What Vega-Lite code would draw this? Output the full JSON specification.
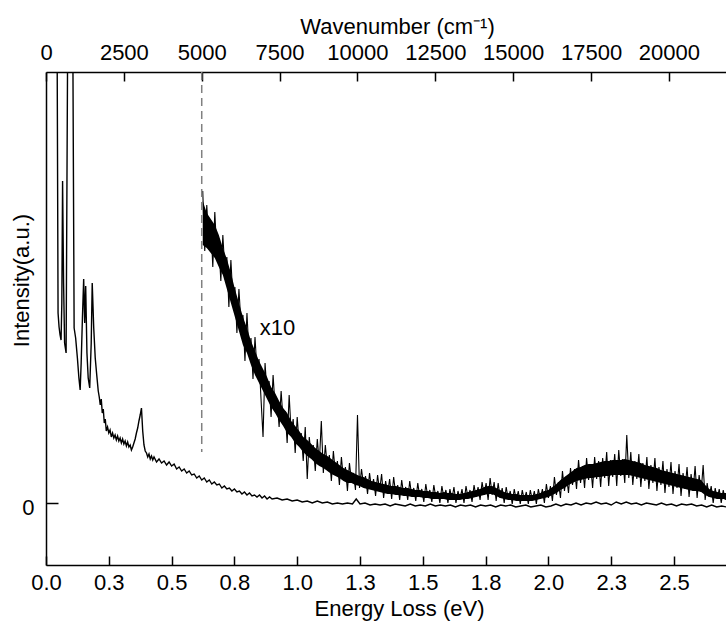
{
  "$schema": "https://vega.github.io/schema/vega-lite/v6.json",
  "width": 680,
  "height": 493,
  "autosize": {"type": "none"},
  "padding": {"left": 46, "top": 72, "right": 0, "bottom": 58},
  "background": "white",
  "config": {
    "view": {"stroke": null},
    "font": "Liberation Sans",
    "axis": {
      "labelFont": "Liberation Sans", "titleFont": "Liberation Sans",
      "labelFontSize": 22, "titleFontSize": 22,
      "labelColor": "black", "titleColor": "black",
      "domainColor": "black", "tickColor": "black",
      "domainWidth": 1.5, "tickWidth": 1.5,
      "grid": false, "labelFlush": false, "titleFontWeight": "normal"
    }
  },
  "datasets": {
    "main": [
      {"e":0.023,"v":2000},{"e":0.048,"v":190},{"e":0.052,"v":176},{"e":0.056,"v":168},{"e":0.060,"v":163},{"e":0.063,"v":200},{"e":0.066,"v":322},{"e":0.070,"v":220},{"e":0.074,"v":160},{"e":0.080,"v":150},{"e":0.097,"v":1000},{"e":0.112,"v":175},{"e":0.118,"v":165},{"e":0.125,"v":145},{"e":0.131,"v":125},{"e":0.136,"v":113},{"e":0.140,"v":140},{"e":0.145,"v":185},{"e":0.150,"v":224},{"e":0.154,"v":180},{"e":0.158,"v":217},{"e":0.163,"v":150},{"e":0.168,"v":125},{"e":0.174,"v":115},{"e":0.180,"v":160},{"e":0.184,"v":220},{"e":0.190,"v":175},{"e":0.196,"v":145},{"e":0.202,"v":128},{"e":0.208,"v":112},{"e":0.212,"v":106},{"e":0.216,"v":98},{"e":0.220,"v":104},{"e":0.224,"v":90},{"e":0.228,"v":94},{"e":0.232,"v":80},{"e":0.236,"v":84},{"e":0.240,"v":72},{"e":0.245,"v":76},{"e":0.250,"v":70},{"e":0.255,"v":73},{"e":0.260,"v":66},{"e":0.265,"v":70},{"e":0.270,"v":65},{"e":0.275,"v":68},{"e":0.280,"v":63},{"e":0.285,"v":67},{"e":0.290,"v":62},{"e":0.295,"v":65},{"e":0.300,"v":60},{"e":0.305,"v":64},{"e":0.310,"v":59},{"e":0.315,"v":62},{"e":0.320,"v":57},{"e":0.325,"v":61},{"e":0.330,"v":56},{"e":0.335,"v":58},{"e":0.340,"v":53},{"e":0.345,"v":56},{"e":0.350,"v":60},{"e":0.355,"v":64},{"e":0.360,"v":70},{"e":0.365,"v":75},{"e":0.370,"v":82},{"e":0.375,"v":88},{"e":0.380,"v":95},{"e":0.385,"v":72},{"e":0.390,"v":58},{"e":0.395,"v":52},{"e":0.400,"v":50},{"e":0.405,"v":46},{"e":0.410,"v":49},{"e":0.415,"v":44},{"e":0.420,"v":47},{"e":0.425,"v":43},{"e":0.430,"v":46},{"e":0.440,"v":41},{"e":0.450,"v":44},{"e":0.460,"v":40},{"e":0.470,"v":42},{"e":0.480,"v":38},{"e":0.490,"v":41},{"e":0.500,"v":37},{"e":0.510,"v":39},{"e":0.520,"v":34},{"e":0.530,"v":36},{"e":0.540,"v":32},{"e":0.550,"v":34},{"e":0.560,"v":30},{"e":0.570,"v":32},{"e":0.580,"v":28},{"e":0.590,"v":29},{"e":0.600,"v":25},{"e":0.610,"v":27},{"e":0.620,"v":23},{"e":0.630,"v":25},{"e":0.640,"v":21},{"e":0.650,"v":23},{"e":0.660,"v":19},{"e":0.670,"v":21},{"e":0.680,"v":18},{"e":0.690,"v":19},{"e":0.700,"v":15},{"e":0.710,"v":17},{"e":0.720,"v":14},{"e":0.730,"v":15},{"e":0.740,"v":12},{"e":0.750,"v":14},{"e":0.760,"v":11},{"e":0.770,"v":12},{"e":0.780,"v":9},{"e":0.790,"v":11},{"e":0.800,"v":8},{"e":0.810,"v":10},{"e":0.820,"v":7},{"e":0.830,"v":8},{"e":0.840,"v":6},{"e":0.850,"v":8},{"e":0.860,"v":5},{"e":0.870,"v":7},{"e":0.880,"v":4},{"e":0.890,"v":6},{"e":0.900,"v":4},{"e":0.920,"v":5},{"e":0.940,"v":3},{"e":0.960,"v":4},{"e":0.980,"v":2},{"e":1.000,"v":3},{"e":1.020,"v":1},{"e":1.040,"v":2},{"e":1.060,"v":0},{"e":1.080,"v":2},{"e":1.100,"v":0},{"e":1.120,"v":1},{"e":1.140,"v":-1},{"e":1.160,"v":0},{"e":1.180,"v":-1},{"e":1.200,"v":0},{"e":1.220,"v":-1},{"e":1.235,"v":4},{"e":1.250,"v":-1},{"e":1.270,"v":0},{"e":1.290,"v":-2},{"e":1.310,"v":-1},{"e":1.330,"v":-2},{"e":1.350,"v":-1},{"e":1.370,"v":-3},{"e":1.390,"v":-1},{"e":1.410,"v":-2},{"e":1.430,"v":-3},{"e":1.450,"v":-1},{"e":1.470,"v":-3},{"e":1.490,"v":-2},{"e":1.510,"v":-3},{"e":1.530,"v":-1},{"e":1.550,"v":-3},{"e":1.570,"v":-2},{"e":1.590,"v":-3},{"e":1.610,"v":-2},{"e":1.630,"v":-4},{"e":1.650,"v":-2},{"e":1.670,"v":-3},{"e":1.690,"v":-2},{"e":1.710,"v":-4},{"e":1.730,"v":-2},{"e":1.750,"v":-3},{"e":1.770,"v":-2},{"e":1.790,"v":-4},{"e":1.810,"v":-2},{"e":1.830,"v":-3},{"e":1.850,"v":-2},{"e":1.870,"v":-4},{"e":1.890,"v":-3},{"e":1.910,"v":-2},{"e":1.930,"v":-4},{"e":1.950,"v":-3},{"e":1.970,"v":-2},{"e":1.990,"v":-4},{"e":2.010,"v":-3},{"e":2.030,"v":-1},{"e":2.050,"v":-3},{"e":2.070,"v":-1},{"e":2.090,"v":-2},{"e":2.110,"v":0},{"e":2.130,"v":-2},{"e":2.150,"v":0},{"e":2.170,"v":-1},{"e":2.190,"v":1},{"e":2.210,"v":-1},{"e":2.230,"v":0},{"e":2.250,"v":-2},{"e":2.270,"v":1},{"e":2.290,"v":-1},{"e":2.310,"v":1},{"e":2.330,"v":-1},{"e":2.350,"v":0},{"e":2.370,"v":-2},{"e":2.390,"v":0},{"e":2.410,"v":-1},{"e":2.430,"v":-2},{"e":2.450,"v":0},{"e":2.470,"v":-2},{"e":2.490,"v":-1},{"e":2.510,"v":-3},{"e":2.530,"v":-1},{"e":2.550,"v":-2},{"e":2.570,"v":-1},{"e":2.590,"v":-3},{"e":2.610,"v":-2},{"e":2.630,"v":-4},{"e":2.650,"v":-2},{"e":2.670,"v":-4},{"e":2.690,"v":-3},{"e":2.710,"v":-4}
    ],
    "x10": [
      {"e":0.624,"v":312},{"e":0.632,"v":252},{"e":0.640,"v":298},{"e":0.648,"v":262},{"e":0.656,"v":281},{"e":0.664,"v":236},{"e":0.672,"v":291},{"e":0.680,"v":250},{"e":0.688,"v":258},{"e":0.696,"v":222},{"e":0.704,"v":268},{"e":0.712,"v":232},{"e":0.720,"v":246},{"e":0.728,"v":196},{"e":0.736,"v":243},{"e":0.744,"v":205},{"e":0.752,"v":216},{"e":0.760,"v":170},{"e":0.768,"v":214},{"e":0.776,"v":180},{"e":0.784,"v":188},{"e":0.792,"v":142},{"e":0.800,"v":190},{"e":0.808,"v":150},{"e":0.816,"v":165},{"e":0.824,"v":124},{"e":0.832,"v":166},{"e":0.840,"v":132},{"e":0.848,"v":144},{"e":0.856,"v":104},{"e":0.864,"v":66},{"e":0.872,"v":140},{"e":0.880,"v":110},{"e":0.888,"v":122},{"e":0.896,"v":86},{"e":0.904,"v":128},{"e":0.912,"v":96},{"e":0.920,"v":104},{"e":0.928,"v":76},{"e":0.936,"v":112},{"e":0.944,"v":82},{"e":0.952,"v":92},{"e":0.960,"v":60},{"e":0.968,"v":108},{"e":0.976,"v":70},{"e":0.984,"v":84},{"e":0.992,"v":50},{"e":1.000,"v":86},{"e":1.008,"v":58},{"e":1.016,"v":70},{"e":1.024,"v":42},{"e":1.032,"v":76},{"e":1.040,"v":24},{"e":1.048,"v":66},{"e":1.056,"v":46},{"e":1.064,"v":58},{"e":1.072,"v":32},{"e":1.080,"v":64},{"e":1.088,"v":40},{"e":1.096,"v":82},{"e":1.104,"v":30},{"e":1.112,"v":58},{"e":1.120,"v":36},{"e":1.128,"v":48},{"e":1.136,"v":22},{"e":1.144,"v":52},{"e":1.152,"v":30},{"e":1.160,"v":42},{"e":1.168,"v":18},{"e":1.176,"v":46},{"e":1.184,"v":24},{"e":1.192,"v":36},{"e":1.200,"v":12},{"e":1.208,"v":40},{"e":1.216,"v":22},{"e":1.224,"v":30},{"e":1.232,"v":13},{"e":1.240,"v":88},{"e":1.248,"v":15},{"e":1.256,"v":34},{"e":1.264,"v":18},{"e":1.272,"v":27},{"e":1.280,"v":9},{"e":1.288,"v":30},{"e":1.296,"v":14},{"e":1.304,"v":24},{"e":1.312,"v":7},{"e":1.320,"v":28},{"e":1.328,"v":12},{"e":1.336,"v":29},{"e":1.344,"v":5},{"e":1.352,"v":22},{"e":1.360,"v":10},{"e":1.368,"v":24},{"e":1.376,"v":4},{"e":1.384,"v":26},{"e":1.392,"v":9},{"e":1.400,"v":18},{"e":1.408,"v":3},{"e":1.416,"v":23},{"e":1.424,"v":8},{"e":1.432,"v":16},{"e":1.440,"v":3},{"e":1.448,"v":22},{"e":1.456,"v":7},{"e":1.464,"v":15},{"e":1.472,"v":2},{"e":1.480,"v":20},{"e":1.488,"v":6},{"e":1.496,"v":14},{"e":1.504,"v":1},{"e":1.512,"v":19},{"e":1.520,"v":6},{"e":1.528,"v":13},{"e":1.536,"v":1},{"e":1.544,"v":18},{"e":1.552,"v":5},{"e":1.560,"v":12},{"e":1.568,"v":0},{"e":1.576,"v":17},{"e":1.584,"v":5},{"e":1.592,"v":13},{"e":1.600,"v":0},{"e":1.608,"v":14},{"e":1.616,"v":4},{"e":1.624,"v":16},{"e":1.632,"v":0},{"e":1.640,"v":12},{"e":1.648,"v":4},{"e":1.656,"v":14},{"e":1.664,"v":0},{"e":1.672,"v":17},{"e":1.680,"v":5},{"e":1.688,"v":13},{"e":1.696,"v":1},{"e":1.704,"v":18},{"e":1.712,"v":6},{"e":1.720,"v":16},{"e":1.728,"v":3},{"e":1.736,"v":21},{"e":1.744,"v":8},{"e":1.752,"v":20},{"e":1.760,"v":3},{"e":1.768,"v":25},{"e":1.776,"v":8},{"e":1.784,"v":21},{"e":1.792,"v":2},{"e":1.800,"v":20},{"e":1.808,"v":5},{"e":1.816,"v":15},{"e":1.824,"v":0},{"e":1.832,"v":16},{"e":1.840,"v":4},{"e":1.848,"v":12},{"e":1.856,"v":-1},{"e":1.864,"v":14},{"e":1.872,"v":3},{"e":1.880,"v":12},{"e":1.888,"v":-1},{"e":1.896,"v":13},{"e":1.904,"v":3},{"e":1.912,"v":11},{"e":1.920,"v":-1},{"e":1.928,"v":13},{"e":1.936,"v":3},{"e":1.944,"v":12},{"e":1.952,"v":-1},{"e":1.960,"v":14},{"e":1.968,"v":4},{"e":1.976,"v":14},{"e":1.984,"v":0},{"e":1.992,"v":19},{"e":2.000,"v":5},{"e":2.008,"v":17},{"e":2.016,"v":2},{"e":2.024,"v":26},{"e":2.032,"v":8},{"e":2.040,"v":21},{"e":2.048,"v":5},{"e":2.056,"v":32},{"e":2.064,"v":12},{"e":2.072,"v":27},{"e":2.080,"v":10},{"e":2.088,"v":35},{"e":2.096,"v":18},{"e":2.104,"v":34},{"e":2.112,"v":14},{"e":2.120,"v":43},{"e":2.128,"v":20},{"e":2.136,"v":37},{"e":2.144,"v":15},{"e":2.152,"v":45},{"e":2.160,"v":23},{"e":2.168,"v":38},{"e":2.176,"v":15},{"e":2.184,"v":46},{"e":2.192,"v":24},{"e":2.200,"v":42},{"e":2.208,"v":16},{"e":2.216,"v":45},{"e":2.224,"v":25},{"e":2.232,"v":51},{"e":2.240,"v":17},{"e":2.248,"v":43},{"e":2.256,"v":26},{"e":2.264,"v":49},{"e":2.272,"v":17},{"e":2.280,"v":53},{"e":2.288,"v":27},{"e":2.296,"v":44},{"e":2.304,"v":20},{"e":2.312,"v":68},{"e":2.320,"v":25},{"e":2.328,"v":51},{"e":2.336,"v":18},{"e":2.344,"v":42},{"e":2.352,"v":24},{"e":2.360,"v":49},{"e":2.368,"v":16},{"e":2.376,"v":40},{"e":2.384,"v":22},{"e":2.392,"v":46},{"e":2.400,"v":14},{"e":2.408,"v":38},{"e":2.416,"v":20},{"e":2.424,"v":45},{"e":2.432,"v":12},{"e":2.440,"v":36},{"e":2.448,"v":18},{"e":2.456,"v":42},{"e":2.464,"v":10},{"e":2.472,"v":34},{"e":2.480,"v":16},{"e":2.488,"v":41},{"e":2.496,"v":9},{"e":2.504,"v":32},{"e":2.512,"v":15},{"e":2.520,"v":39},{"e":2.528,"v":7},{"e":2.536,"v":30},{"e":2.544,"v":14},{"e":2.552,"v":36},{"e":2.560,"v":6},{"e":2.568,"v":29},{"e":2.576,"v":12},{"e":2.584,"v":37},{"e":2.592,"v":5},{"e":2.600,"v":28},{"e":2.608,"v":11},{"e":2.616,"v":38},{"e":2.624,"v":3},{"e":2.632,"v":20},{"e":2.640,"v":6},{"e":2.648,"v":17},{"e":2.656,"v":0},{"e":2.664,"v":15},{"e":2.672,"v":4},{"e":2.680,"v":14},{"e":2.688,"v":0},{"e":2.696,"v":13},{"e":2.704,"v":3},{"e":2.712,"v":12}
    ],
    "band": [
      {"e":0.624,"lo":258,"hi":302},{"e":0.640,"lo":255,"hi":290},{"e":0.656,"lo":250,"hi":284},{"e":0.672,"lo":245,"hi":278},{"e":0.688,"lo":236,"hi":268},{"e":0.704,"lo":228,"hi":255},{"e":0.720,"lo":214,"hi":244},{"e":0.736,"lo":200,"hi":230},{"e":0.752,"lo":186,"hi":214},{"e":0.768,"lo":172,"hi":200},{"e":0.784,"lo":158,"hi":186},{"e":0.800,"lo":150,"hi":175},{"e":0.816,"lo":138,"hi":162},{"e":0.832,"lo":128,"hi":152},{"e":0.848,"lo":120,"hi":142},{"e":0.864,"lo":112,"hi":134},{"e":0.880,"lo":104,"hi":126},{"e":0.896,"lo":96,"hi":116},{"e":0.912,"lo":90,"hi":110},{"e":0.928,"lo":83,"hi":102},{"e":0.944,"lo":77,"hi":95},{"e":0.960,"lo":70,"hi":90},{"e":0.976,"lo":66,"hi":82},{"e":0.992,"lo":60,"hi":77},{"e":1.008,"lo":56,"hi":72},{"e":1.024,"lo":51,"hi":66},{"e":1.040,"lo":47,"hi":63},{"e":1.056,"lo":44,"hi":59},{"e":1.072,"lo":40,"hi":55},{"e":1.088,"lo":37,"hi":52},{"e":1.104,"lo":35,"hi":49},{"e":1.120,"lo":32,"hi":47},{"e":1.136,"lo":29,"hi":44},{"e":1.152,"lo":27,"hi":41},{"e":1.168,"lo":25,"hi":38},{"e":1.184,"lo":22,"hi":35},{"e":1.200,"lo":20,"hi":33},{"e":1.216,"lo":20,"hi":31},{"e":1.232,"lo":18,"hi":29},{"e":1.248,"lo":17,"hi":27},{"e":1.264,"lo":15,"hi":26},{"e":1.280,"lo":14,"hi":24},{"e":1.296,"lo":13,"hi":22},{"e":1.312,"lo":12,"hi":21},{"e":1.328,"lo":11,"hi":20},{"e":1.344,"lo":10,"hi":19},{"e":1.360,"lo":9,"hi":18},{"e":1.376,"lo":9,"hi":17},{"e":1.392,"lo":8,"hi":17},{"e":1.408,"lo":8,"hi":16},{"e":1.424,"lo":7,"hi":15},{"e":1.440,"lo":7,"hi":15},{"e":1.456,"lo":6,"hi":14},{"e":1.472,"lo":6,"hi":13},{"e":1.488,"lo":6,"hi":13},{"e":1.504,"lo":5,"hi":12},{"e":1.520,"lo":5,"hi":12},{"e":1.536,"lo":4,"hi":11},{"e":1.552,"lo":4,"hi":11},{"e":1.568,"lo":4,"hi":10},{"e":1.584,"lo":4,"hi":11},{"e":1.600,"lo":3,"hi":10},{"e":1.616,"lo":3,"hi":10},{"e":1.632,"lo":3,"hi":9},{"e":1.648,"lo":3,"hi":9},{"e":1.664,"lo":4,"hi":10},{"e":1.680,"lo":4,"hi":11},{"e":1.696,"lo":5,"hi":12},{"e":1.712,"lo":6,"hi":13},{"e":1.728,"lo":7,"hi":14},{"e":1.744,"lo":8,"hi":16},{"e":1.760,"lo":9,"hi":17},{"e":1.776,"lo":9,"hi":17},{"e":1.792,"lo":7,"hi":15},{"e":1.808,"lo":5,"hi":13},{"e":1.824,"lo":4,"hi":11},{"e":1.840,"lo":3,"hi":10},{"e":1.856,"lo":3,"hi":9},{"e":1.872,"lo":2,"hi":9},{"e":1.888,"lo":2,"hi":8},{"e":1.904,"lo":2,"hi":8},{"e":1.920,"lo":2,"hi":8},{"e":1.936,"lo":2,"hi":8},{"e":1.952,"lo":3,"hi":9},{"e":1.968,"lo":4,"hi":10},{"e":1.984,"lo":5,"hi":12},{"e":2.000,"lo":6,"hi":13},{"e":2.016,"lo":8,"hi":16},{"e":2.032,"lo":10,"hi":19},{"e":2.048,"lo":13,"hi":23},{"e":2.064,"lo":15,"hi":26},{"e":2.080,"lo":18,"hi":29},{"e":2.096,"lo":20,"hi":32},{"e":2.112,"lo":22,"hi":35},{"e":2.128,"lo":23,"hi":36},{"e":2.144,"lo":24,"hi":38},{"e":2.160,"lo":25,"hi":39},{"e":2.176,"lo":25,"hi":39},{"e":2.192,"lo":26,"hi":40},{"e":2.208,"lo":26,"hi":41},{"e":2.224,"lo":27,"hi":42},{"e":2.240,"lo":27,"hi":42},{"e":2.256,"lo":28,"hi":43},{"e":2.272,"lo":28,"hi":43},{"e":2.288,"lo":28,"hi":43},{"e":2.304,"lo":28,"hi":44},{"e":2.320,"lo":28,"hi":43},{"e":2.336,"lo":27,"hi":42},{"e":2.352,"lo":26,"hi":41},{"e":2.368,"lo":25,"hi":40},{"e":2.384,"lo":24,"hi":38},{"e":2.400,"lo":23,"hi":37},{"e":2.416,"lo":22,"hi":36},{"e":2.432,"lo":21,"hi":35},{"e":2.448,"lo":20,"hi":33},{"e":2.464,"lo":19,"hi":32},{"e":2.480,"lo":18,"hi":31},{"e":2.496,"lo":17,"hi":30},{"e":2.512,"lo":16,"hi":29},{"e":2.528,"lo":15,"hi":28},{"e":2.544,"lo":14,"hi":27},{"e":2.560,"lo":13,"hi":26},{"e":2.576,"lo":12,"hi":25},{"e":2.592,"lo":12,"hi":24},{"e":2.608,"lo":11,"hi":23},{"e":2.624,"lo":8,"hi":18},{"e":2.640,"lo":6,"hi":14},{"e":2.656,"lo":5,"hi":12},{"e":2.672,"lo":4,"hi":11},{"e":2.688,"lo":4,"hi":10},{"e":2.704,"lo":4,"hi":10},{"e":2.712,"lo":4,"hi":10}
    ]
  },
  "resolve": {"scale": {"x": "independent"}, "axis": {"x": "independent"}},
  "layer": [
    {
      "data": {"name": "main"},
      "mark": {"type": "line", "color": "black", "strokeWidth": 1.4, "clip": true},
      "encoding": {
        "x": {"field": "e", "type": "quantitative", "scale": {"domain": [0, 2.707], "nice": false, "zero": false},
          "axis": {"orient": "bottom", "values": [0, 0.25, 0.5, 0.75, 1, 1.25, 1.5, 1.75, 2, 2.25, 2.5], "format": ".1f",
            "title": "Energy Loss (eV)", "tickSize": -9, "labelPadding": 16,
            "titleX": 353, "titleY": 50, "titleBaseline": "alphabetic", "titleAlign": "center"}},
        "y": {"field": "v", "type": "quantitative", "scale": {"domain": [-62, 431], "nice": false, "zero": false},
          "axis": {"orient": "left", "values": [0], "format": "d", "title": "Intensity(a.u.)",
            "tickSize": -12, "labelPadding": 24, "labelOffset": 4,
            "titleX": -18, "titleY": 208, "titleAngle": 270, "titleBaseline": "alphabetic", "titleAlign": "center"}}
      }
    },
    {
      "data": {"name": "band"},
      "mark": {"type": "area", "color": "black", "opacity": 1, "clip": true},
      "encoding": {
        "x": {"field": "e", "type": "quantitative", "scale": {"domain": [0, 2.707], "nice": false, "zero": false}, "axis": null},
        "y": {"field": "lo", "type": "quantitative", "scale": {"domain": [-62, 431], "nice": false, "zero": false}},
        "y2": {"field": "hi"}
      }
    },
    {
      "data": {"name": "x10"},
      "mark": {"type": "line", "color": "black", "strokeWidth": 1.1, "clip": true},
      "encoding": {
        "x": {"field": "e", "type": "quantitative", "scale": {"domain": [0, 2.707], "nice": false, "zero": false}, "axis": null},
        "y": {"field": "v", "type": "quantitative", "scale": {"domain": [-62, 431], "nice": false, "zero": false}}
      }
    },
    {
      "data": {"values": [{}]},
      "mark": {"type": "text", "text": "x10", "fontSize": 22, "align": "center", "baseline": "alphabetic", "font": "Liberation Sans", "color": "black"},
      "encoding": {
        "x": {"datum": 0.9216, "type": "quantitative", "scale": {"domain": [0, 2.707], "nice": false, "zero": false}, "axis": null},
        "y": {"datum": 168, "type": "quantitative", "scale": {"domain": [-62, 431], "nice": false, "zero": false}}
      }
    },
    {
      "data": {"values": [{}]},
      "mark": {"type": "rule", "color": "#808080", "strokeWidth": 1.5, "strokeDash": [8, 5]},
      "encoding": {
        "x": {"datum": 5000, "type": "quantitative", "scale": {"domain": [0, 21833], "nice": false, "zero": false},
          "axis": {"orient": "top", "values": [0, 2500, 5000, 7500, 10000, 12500, 15000, 17500, 20000], "format": "d",
            "title": "Wavenumber (cm⁻¹)", "tickSize": -9, "labelPadding": 17,
            "titleX": 351, "titleY": -39, "titleBaseline": "alphabetic", "titleAlign": "center"}},
        "y": {"datum": 431, "type": "quantitative", "scale": {"domain": [-62, 431], "nice": false, "zero": false}},
        "y2": {"datum": 51}
      }
    }
  ]
}
